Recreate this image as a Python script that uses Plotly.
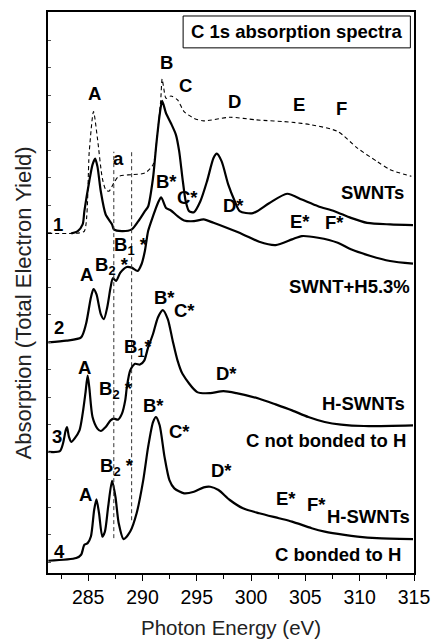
import plotly.graph_objects as go

# ---------------- data (photon energy in eV, absorption in arbitrary offset units) ----------------
ref_x = [281.3, 283.47, 284.2, 284.65, 285.1, 285.49, 285.85, 286.3, 286.61, 286.91, 287.36, 287.81,
         289.01, 290.22, 290.97, 291.36, 291.67, 291.81, 291.96, 292.17, 292.62, 293.23, 293.83,
         294.74, 295.64, 298.04, 300.46, 303.77, 305.58, 307.98, 309.79, 311.59, 312.8, 314.76]
ref_y = [341, 341, 341.5, 343.3, 423.3, 463.3, 436.6, 396.6, 385, 383.3, 391.6, 398.3,
         400, 401.6, 410, 440, 473.3, 496, 486.6, 476.6, 479, 475, 463.3,
         456.6, 454, 457.6, 455, 452.6, 450, 443.3, 426.6, 413.3, 405, 398.3]

swnt_x = [283.45, 284.04, 284.49, 284.65, 285.1, 285.4, 285.64, 285.85, 286.16, 286.61, 287.2, 287.36,
          288.11, 289.01, 289.62, 290.22, 290.52, 290.97, 291.27, 291.58, 291.81, 292.17, 292.62,
          293.08, 293.38, 293.68, 293.98, 294.29, 294.74, 295.33, 295.94, 296.54, 296.84, 297.29,
          297.9, 298.5, 298.95, 300.16, 301.66, 303.32, 304.67, 306.17, 307.68, 309.19, 310.69,
          312.8, 314.91]
swnt_y = [341, 343.3, 350, 363.3, 393.3, 410, 416, 408.3, 383.3, 360, 350, 345,
          343.3, 345, 353.3, 363.3, 368, 396.6, 430, 460, 474, 461.6, 451.6,
          440, 423.3, 396.6, 373.3, 363.3, 362.3, 373.3, 393.3, 416.6, 421, 413.3,
          390, 373.3, 363.3, 361.3, 371.3, 380.8, 375, 368.3, 363.3, 356.6, 351.6,
          350, 349.3]

h53_x = [281.33, 282.99, 284.35, 284.8, 285.25, 285.49, 285.76, 286.16, 286.45, 286.75, 287.06, 287.27,
         287.57, 287.96, 288.56, 289.01, 289.55, 289.91, 290.22, 290.52, 290.97, 291.42, 291.72,
         292.17, 292.62, 293.23, 293.83, 294.74, 295.64, 296.54, 297.75, 299.25, 300.75, 302.26,
         303.77, 304.67, 306.17, 307.98, 309.19, 311.0, 312.8, 314.91]
h53_y = [231.6, 233.3, 236.6, 250, 276.6, 285, 280, 260, 255, 266.6, 286.6, 296,
         293.3, 301.6, 307.3, 306.6, 303.3, 310, 323.3, 343.3, 358.3, 371.6, 377.3,
         366.6, 364, 358.3, 354, 353.3, 355, 351.6, 346.6, 340, 332.6, 329.3,
         335, 338.3, 336.6, 331.6, 325, 318.3, 313.3, 310.6]

hnb_x = [281.33, 282.39, 282.68, 282.93, 283.05, 283.23, 283.45, 283.74, 284.2, 284.49, 284.74, 284.95,
         285.1, 285.4, 285.85, 286.16, 286.61, 287.06, 287.36, 287.75, 288.11, 288.41, 288.56,
         288.87, 289.32, 289.77, 290.16, 290.52, 290.97, 291.42, 291.87, 292.33, 292.78, 293.23,
         293.68, 295.04, 296.24, 297.45, 298.65, 300.75, 302.26, 303.77, 305.27, 306.78, 308.29,
         310.39, 314.91]
hnb_y = [121.6, 122.3, 130, 143.3, 146.6, 136.6, 131.6, 135, 143.3, 160, 180, 198.3,
         186.6, 156.6, 145, 142.6, 146.6, 153.3, 155, 154, 160, 173.3, 186.6,
         203.3, 210, 209.3, 213.3, 226.6, 240, 256.6, 264, 255, 233.3, 213.3,
         200, 181.6, 180.6, 182.6, 180.6, 175, 169.3, 163.3, 156.6, 151.6, 149,
         147.6, 148.3]

hb_x = [281.33, 283.9, 284.35, 284.65, 284.95, 285.25, 285.55, 285.76, 286.0, 286.3, 286.54, 286.84,
        287.2, 287.51, 287.81, 288.26, 288.87, 289.46, 290.07, 290.52, 290.97, 291.24, 291.58,
        292.03, 292.48, 292.93, 293.83, 294.74, 295.64, 296.24, 297.0, 298.04, 299.25, 300.75,
        302.56, 303.77, 305.58, 306.78, 308.59, 309.79, 311.59, 314.91]
hb_y = [12.3, 15, 18.3, 28.3, 30, 36.6, 63.3, 74, 60, 36.6, 41.6, 66.6,
        92.6, 76.6, 50, 34, 41.6, 60, 93.3, 126.6, 151.6, 156.6, 148.3,
        116.6, 93.3, 85, 80, 81.6, 86, 86.6, 83.3, 73.3, 65, 60,
        55, 51.6, 45, 41.6, 38.3, 36.6, 35, 34]

vline_x = [287.36, 289.0]
vline_bottom = [35, 53]
vline_top = [423, 425]

# labels: (text, eV, height)
labels = [
    ("A", 285.55, 481.6), ("B", 292.17, 512.6), ("C", 293.98, 490), ("D", 298.5, 473.3),
    ("E", 304.37, 470.6), ("F", 308.29, 466.6), ("a", 287.81, 416.6),
    ("B*", 292.17, 393.3), ("C*", 294.13, 376.6), ("D*", 298.35, 369.3),
    ("E*", 304.52, 353.3), ("F*", 307.72, 351.6), ("SWNTs", 311.14, 382.3), ("1", 282.24, 350),
    ("B<sub>1</sub> *", 288.98, 328.3), ("B<sub>2</sub> *", 287.18, 308.3), ("A", 284.8, 299.3),
    ("SWNT+H5.3%", 309.04, 287.3), ("2", 282.33, 246.6),
    ("B*", 292.03, 276.6), ("C*", 293.83, 263.3), ("B<sub>1</sub>*", 289.6, 226.3),
    ("A", 284.65, 206.6), ("B<sub>2</sub> *", 287.54, 183.3), ("D*", 297.75, 200),
    ("H-SWNTs", 310.39, 170), ("C not bonded to H", 306.93, 133.3), ("3", 282.09, 136.6),
    ("B*", 290.97, 168.3), ("C*", 293.38, 141.6), ("B<sub>2</sub> *", 287.63, 106.6),
    ("A", 284.74, 79.3), ("D*", 297.3, 103.3), ("E*", 303.17, 75), ("F*", 306.03, 68.3),
    ("H-SWNTs", 310.84, 56.6), ("C bonded to H", 307.98, 18.3), ("4", 282.39, 21.6),
]

FONT = "Liberation Sans, Arial, sans-serif"
W, H = 440, 642
L, R, T, B = 48, 19, 10, 69
PW, PH = W - L - R, H - T - B


def px_paper(px, py):
    return (px - L) / PW, (H - B - py) / PH


fig = go.Figure()

fig.add_trace(go.Scatter(x=ref_x, y=ref_y, mode="lines",
                         line=dict(color="black", width=1.1, dash="4px,3px", shape="spline", smoothing=0.7)))
for xs, ys in [(swnt_x, swnt_y), (h53_x, h53_y), (hnb_x, hnb_y), (hb_x, hb_y)]:
    fig.add_trace(go.Scatter(x=xs, y=ys, mode="lines",
                             line=dict(color="black", width=2.2, shape="spline", smoothing=0.7)))
for vx, vb, vt in zip(vline_x, vline_bottom, vline_top):
    fig.add_trace(go.Scatter(x=[vx, vx], y=[vb, vt], mode="lines",
                             line=dict(color="#333", width=1, dash="4px,3px")))

annotations = []
for t, x, y in labels:
    annotations.append(dict(text=t, x=x, y=y, xref="x", yref="y", showarrow=False,
                            font=dict(family=FONT, size=18.5, color="black", weight="bold"),
                            xanchor="center", yanchor="middle"))

bx, by = px_paper(301.5, 30)
annotations.append(dict(text="C 1s absorption spectra", x=bx, y=by, xref="paper", yref="paper",
                        showarrow=False, font=dict(family=FONT, size=18.5, color="black", weight="bold"),
                        xanchor="center", yanchor="middle"))
yx, yy = px_paper(23, 302)
annotations.append(dict(text="Absorption (Total Electron Yield)", x=yx, y=yy, xref="paper", yref="paper",
                        showarrow=False, textangle=-90, xanchor="center", yanchor="middle",
                        font=dict(family=FONT, size=22, color="#222")))
tx, ty = px_paper(234, 628)
annotations.append(dict(text="Photon Energy (eV)", x=tx, y=ty, xref="paper", yref="paper",
                        showarrow=False, xanchor="center", yanchor="middle",
                        font=dict(family=FONT, size=20.5, color="#222")))

x0, y0 = px_paper(185.7, 46)
x1, y1 = px_paper(417.3, 14)

fig.update_layout(
    width=W, height=H,
    margin=dict(l=L, r=R, t=T, b=B),
    paper_bgcolor="white", plot_bgcolor="white",
    showlegend=False,
    annotations=annotations,
    shapes=[dict(type="rect", xref="paper", yref="paper", x0=x0, x1=x1, y0=y0, y1=y1,
                 line=dict(color="black", width=1), fillcolor="white", layer="above")],
    xaxis=dict(range=[281.3, 315], showline=True, linecolor="black", linewidth=1.5, mirror=True,
               ticks="outside", ticklen=6, tickwidth=1.2, tickcolor="black",
               tick0=285, dtick=5, showgrid=False, zeroline=False,
               tickfont=dict(family=FONT, size=19.5, color="black"),
               minor=dict(ticks="outside", ticklen=4, tickwidth=1, tickcolor="black", dtick=2.5, tick0=282.5)),
    yaxis=dict(range=[0, 563.3], showline=True, linecolor="black", linewidth=1.5, mirror=True,
               ticks="inside", ticklen=3, tickwidth=1, tickcolor="#555",
               tick0=38.3, dtick=27.6, showticklabels=False, showgrid=False, zeroline=False),
)

fig.write_html("out.html", config={"displayModeBar": False},
               post_script="document.body.style.margin='0';document.body.style.overflow='hidden';")
